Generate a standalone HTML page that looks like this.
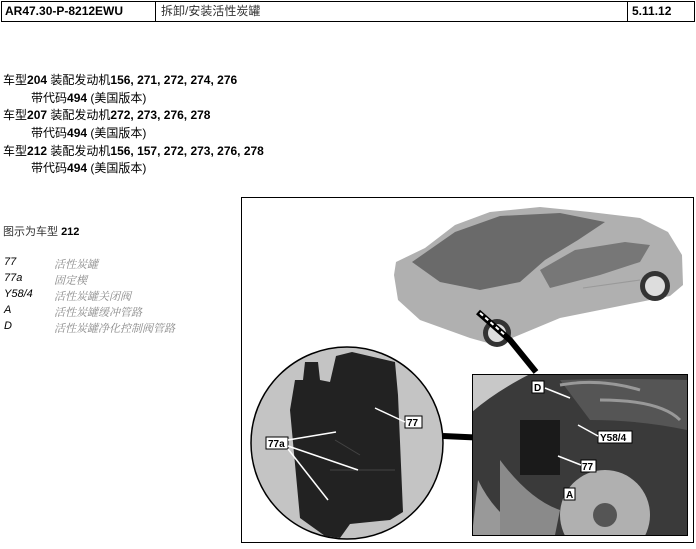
<!DOCTYPE html>
<html><head><meta charset="utf-8"><style>
body{margin:0;width:696px;height:549px;background:#fff;position:relative;overflow:hidden;font-family:"Liberation Sans","Noto Sans CJK SC",sans-serif;}
.hdr{position:absolute;left:1px;top:1px;width:692px;height:19px;border:1px solid #000;}
.hdr div{position:absolute;top:0;height:19px;line-height:19px;font-size:12px;}
.t{position:absolute;left:3px;font-size:12px;color:#000;white-space:nowrap;}
.t b{font-weight:bold}
.i{left:31px}
.lg{position:absolute;font-size:11px;font-style:italic;white-space:nowrap}
.lg span{position:absolute;left:50px;color:#888;font-family:"Noto Serif CJK SC",serif;}
</style></head><body>
<div class="hdr">
<div style="left:3px;font-weight:bold">AR47.30-P-8212EWU</div>
<div style="left:153px;width:1px;background:#000"></div>
<div style="left:159px;color:#333">拆卸/安装活性炭罐</div>
<div style="left:625px;width:1px;background:#000"></div>
<div style="left:630px;font-weight:bold">5.11.12</div>
</div>
<div class="t" style="top:71px">车型<b>204</b> 装配发动机<b>156, 271, 272, 274, 276</b></div>
<div class="t i" style="top:89px">带代码<b>494</b> (美国版本)</div>
<div class="t" style="top:106px">车型<b>207</b> 装配发动机<b>272, 273, 276, 278</b></div>
<div class="t i" style="top:124px">带代码<b>494</b> (美国版本)</div>
<div class="t" style="top:142px">车型<b>212</b> 装配发动机<b>156, 157, 272, 273, 276, 278</b></div>
<div class="t i" style="top:159px">带代码<b>494</b> (美国版本)</div>
<div class="t" style="top:223px;font-size:11px;color:#333">图示为车型 <b style="color:#000">212</b></div>
<div class="lg" style="left:4px;top:256px">77<span>活性炭罐</span></div>
<div class="lg" style="left:4px;top:272px">77a<span>固定楔</span></div>
<div class="lg" style="left:4px;top:288px">Y58/4<span>活性炭罐关闭阀</span></div>
<div class="lg" style="left:4px;top:304px">A<span>活性炭罐缓冲管路</span></div>
<div class="lg" style="left:4px;top:320px">D<span>活性炭罐净化控制阀管路</span></div>
<svg style="position:absolute;left:0;top:0" width="696" height="549">
<defs><clipPath id="ci"><rect x="472" y="374" width="215" height="161"/></clipPath></defs>
<rect x="241.5" y="197.5" width="452" height="345" fill="#fff" stroke="#000"/>
<!-- car -->
<path d="M394,275 L396,262 L425,248 L455,225 L490,212 L540,207 L590,212 L640,218 L668,232 L682,255 L683,285 L670,296 L560,318 L512,338 L495,345 L470,338 L420,320 L398,300 Z" fill="#b0b0b0"/>
<path d="M412,262 L455,232 L500,216 L560,213 L605,222 L578,240 L545,260 L520,282 L480,290 L440,282 Z" fill="#6a6a6a"/>
<path d="M540,270 L575,250 L625,242 L650,245 L640,262 L600,275 L550,288 Z" fill="#777"/>
<path d="M583,288 L640,280" stroke="#999" stroke-width="1"/>
<circle cx="497" cy="333" r="14" fill="#333"/><circle cx="497" cy="333" r="9" fill="#ddd"/>
<circle cx="655" cy="286" r="15" fill="#333"/><circle cx="655" cy="286" r="10" fill="#ddd"/>
<path d="M478,312 L510,340 L536,372" stroke="#000" stroke-width="6" fill="none"/>
<path d="M480,313 L506,336" stroke="#fff" stroke-width="2" stroke-dasharray="4,3"/>
<!-- connector to circle -->
<path d="M443,436 L530,440" stroke="#000" stroke-width="6"/>
<!-- circle -->
<circle cx="347" cy="443" r="96" fill="#c4c4c4" stroke="#000" stroke-width="1.5"/>
<path d="M290,410 L295,380 L303,380 L305,362 L318,362 L320,380 L330,382 L336,356 L352,352 L395,362 L398,395 L403,512 L390,520 L350,524 L340,538 L325,536 L300,518 Z" fill="#222"/>
<path d="M335,440 L360,455 M330,470 L395,470" stroke="#444" stroke-width="1"/>
<!-- inset photo -->
<g clip-path="url(#ci)">
<rect x="472" y="374" width="215" height="161" fill="#3a3a3a"/>
<path d="M472,374 L530,374 Q495,392 472,412 Z" fill="#c8c8c8"/>
<path d="M560,380 Q620,378 687,380 L687,430 Q640,420 590,420 Z" fill="#555"/>
<path d="M560,385 Q600,378 640,390 M600,400 Q660,400 680,420" stroke="#999" stroke-width="3" fill="none"/>
<path d="M478,480 Q500,525 540,535 L472,535 Z" fill="#999"/>
<path d="M500,460 Q530,500 560,510 L555,535 L500,535 Z" fill="#8a8a8a"/>
<circle cx="605" cy="515" r="45" fill="#b0b0b0"/><circle cx="605" cy="515" r="12" fill="#555"/>
<rect x="520" y="420" width="40" height="55" fill="#1a1a1a"/>
</g>
<rect x="472.5" y="374.5" width="215" height="161" fill="none" stroke="#000"/>
<g font-family="Liberation Sans,sans-serif" font-size="10" font-weight="bold">
<rect x="532" y="381" width="12" height="12" fill="#fff" stroke="#000"/><text x="534" y="391">D</text>
<rect x="598" y="431" width="34" height="12" fill="#fff" stroke="#000"/><text x="600" y="441">Y58/4</text>
<rect x="581" y="460" width="15" height="12" fill="#fff" stroke="#000"/><text x="582" y="470">77</text>
<rect x="564" y="488" width="11" height="12" fill="#fff" stroke="#000"/><text x="566" y="498">A</text>
<rect x="405" y="416" width="17" height="12" fill="#fff" stroke="#000"/><text x="407" y="426">77</text>
<rect x="266" y="437" width="22" height="12" fill="#fff" stroke="#000"/><text x="268" y="447">77a</text>
</g>
<g stroke="#fff" stroke-width="1.5">
<line x1="288" y1="440" x2="336" y2="432"/><line x1="288" y1="446" x2="358" y2="470"/><line x1="288" y1="449" x2="328" y2="500"/>
<line x1="405" y1="422" x2="375" y2="408"/><line x1="545" y1="388" x2="570" y2="398"/>
<line x1="598" y1="436" x2="578" y2="425"/><line x1="581" y1="465" x2="558" y2="456"/>
</g>
</svg>
</body></html>
